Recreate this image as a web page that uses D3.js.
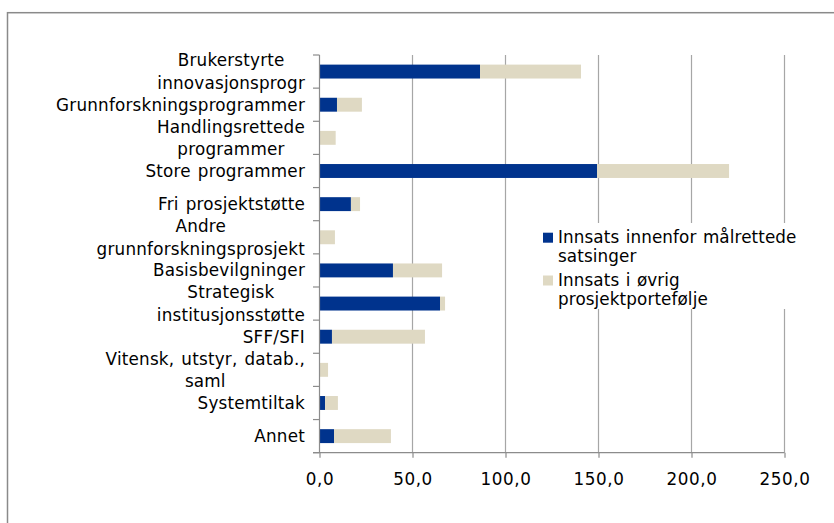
<!DOCTYPE html>
<html>
<head>
<meta charset="utf-8">
<script src="https://cdn.jsdelivr.net/npm/d3@7"></script>
<style>
  html, body { margin: 0; padding: 0; background: #fff; }
  svg { display: block; font-family: "DejaVu Sans", Verdana, sans-serif; }
</style>
</head>
<body>
<svg id="chart" width="834" height="523"></svg>
<script>
// Categories, top to bottom
const categories = [
  "Brukerstyrte innovasjonsprogr",
  "Grunnforskningsprogrammer",
  "Handlingsrettede programmer",
  "Store programmer",
  "Fri prosjektstøtte",
  "Andre grunnforskningsprosjekt",
  "Basisbevilgninger",
  "Strategisk institusjonsstøtte",
  "SFF/SFI",
  "Vitensk, utstyr, datab., saml",
  "Systemtiltak",
  "Annet"
];

// Effort within targeted priorities
const targeted = [86.3, 9.4, 0, 149.2, 16.9, 0, 39.5, 64.8, 6.7, 0, 3.0, 7.8];
// Effort in the rest of the project portfolio
const other = [54.3, 13.4, 8.7, 71.0, 4.9, 8.3, 26.4, 2.7, 50.0, 4.6, 6.9, 30.6];

const seriesNames = [
  "Innsats innenfor målrettede satsinger",
  "Innsats i øvrig prosjektportefølje"
];
const xTicks = [0, 50, 100, 150, 200, 250];

const colors = ["#00338d", "#dfd9c3"];

const svg = d3.select("#chart");
const fontSize = 16.8;

// Outer chart frame
svg.append("rect")
  .attr("x", 7.5).attr("y", 12.7)
  .attr("width", 900).attr("height", 600)
  .attr("fill", "none")
  .attr("stroke", "#8a8a8a")
  .attr("stroke-width", 1.5);

const plot = { left: 319.5, right: 784.5, top: 55, bottom: 452.7 };

const x = d3.scaleLinear().domain([0, 250]).range([plot.left, plot.right]);
const y = d3.scaleBand().domain(categories).range([plot.top, plot.bottom])
  .paddingInner(0.58).paddingOuter(0.29);
const band = d3.scaleBand().domain(categories).range([plot.top, plot.bottom]);

// Vertical gridlines
svg.append("g")
  .selectAll("line")
  .data(xTicks.filter(d => d > 0))
  .join("line")
  .attr("x1", d => x(d)).attr("x2", d => x(d))
  .attr("y1", plot.top).attr("y2", plot.bottom)
  .attr("stroke", "#a6a6a6")
  .attr("stroke-width", 1.2);

// Stacked bars
const rows = categories.map((c, i) => ({ cat: c, targeted: targeted[i], other: other[i] }));
const stack = d3.stack().keys(["targeted", "other"]);
const layers = stack(rows);

svg.append("g")
  .selectAll("g")
  .data(layers)
  .join("g")
  .attr("fill", (d, i) => colors[i])
  .selectAll("rect")
  .data(d => d)
  .join("rect")
  .attr("x", d => x(d[0]))
  .attr("y", d => y(d.data.cat))
  .attr("width", d => Math.max(0, x(d[1]) - x(d[0])))
  .attr("height", y.bandwidth());

// Axes
const axisColor = "#8c8c8c";
const xAxis = svg.append("g")
  .attr("transform", `translate(0,${plot.bottom})`)
  .call(d3.axisBottom(x).tickValues(xTicks).tickSizeInner(5).tickSizeOuter(0)
    .tickFormat(d => d3.format(".1f")(d).replace(".", ",")));
xAxis.select(".domain").remove();
xAxis.selectAll(".tick line").attr("stroke", axisColor).attr("stroke-width", 1.2);
xAxis.selectAll(".tick text")
  .attr("y", 32.8)
  .attr("dy", 0)
  .attr("fill", "#000")
  .style("font-family", "'DejaVu Sans', Verdana, sans-serif")
  .style("font-size", fontSize + "px")
  .style("letter-spacing", "0.6px");

// Baseline along the bottom and the category axis line
svg.append("line")
  .attr("x1", plot.left - 6.5).attr("x2", plot.right)
  .attr("y1", plot.bottom).attr("y2", plot.bottom)
  .attr("stroke", axisColor).attr("stroke-width", 1.2);
svg.append("line")
  .attr("x1", plot.left).attr("x2", plot.left)
  .attr("y1", plot.top).attr("y2", plot.bottom)
  .attr("stroke", axisColor).attr("stroke-width", 1.2);

// Category tick marks at band boundaries
const boundaries = categories.map(c => band(c)).concat([plot.bottom]);
svg.append("g")
  .selectAll("line")
  .data(boundaries)
  .join("line")
  .attr("x1", plot.left - 6.5).attr("x2", plot.left)
  .attr("y1", d => d).attr("y2", d => d)
  .attr("stroke", axisColor).attr("stroke-width", 1.2);

// Category labels, wrapped to a maximum width
const labelRight = 305;
const maxWidth = 228;
const lineGap = 22.7;
const labelStyle = sel => sel
  .style("font-size", fontSize + "px")
  .style("letter-spacing", "0.2px")
  .style("word-spacing", "1.5px");
const measurer = svg.append("text").call(labelStyle).attr("visibility", "hidden");
function textWidth(s) { measurer.text(s); return measurer.node().getComputedTextLength(); }
function wrap(label) {
  const words = label.split(" ");
  const lines = [];
  let cur = "";
  words.forEach(w => {
    const test = cur ? cur + " " + w : w;
    if (cur && textWidth(test) > maxWidth) { lines.push(cur); cur = w; }
    else cur = test;
  });
  if (cur) lines.push(cur);
  return lines;
}

const labelG = svg.append("g").call(labelStyle).attr("fill", "#000");
categories.forEach(c => {
  const lines = wrap(c);
  const widths = lines.map(textWidth);
  const blockW = d3.max(widths);
  const cy = band(c) + band.bandwidth() / 2;
  const centerX = labelRight - blockW / 2;
  const n = lines.length;
  lines.forEach((ln, k) => {
    const base = cy + (k - (n - 1) / 2) * lineGap + fontSize * 0.36;
    labelG.append("text")
      .attr("x", n > 1 ? centerX : labelRight)
      .attr("y", base)
      .attr("text-anchor", n > 1 ? "middle" : "end")
      .text(ln);
  });
});
measurer.remove();

// Legend
const legend = svg.append("g");
legend.append("rect")
  .attr("x", 533).attr("y", 223)
  .attr("width", 275).attr("height", 86)
  .attr("fill", "#fff");
const legendItems = [
  { name: seriesNames[0], lines: ["Innsats innenfor målrettede", "satsinger"], top: 232.7 },
  { name: seriesNames[1], lines: ["Innsats i øvrig", "prosjektportefølje"], top: 275.5 }
];
legendItems.forEach((it, i) => {
  legend.append("rect")
    .attr("x", 543).attr("y", it.top)
    .attr("width", 10).attr("height", 10)
    .attr("fill", colors[i]);
  it.lines.forEach((ln, k) => {
    legend.append("text")
      .attr("x", 558)
      .attr("y", it.top + 10.5 + k * 18.7)
      .style("font-size", fontSize + "px")
      .style("letter-spacing", "0.1px")
      .style("word-spacing", "1px")
      .attr("fill", "#000")
      .text(ln);
  });
});
</script>
</body>
</html>
